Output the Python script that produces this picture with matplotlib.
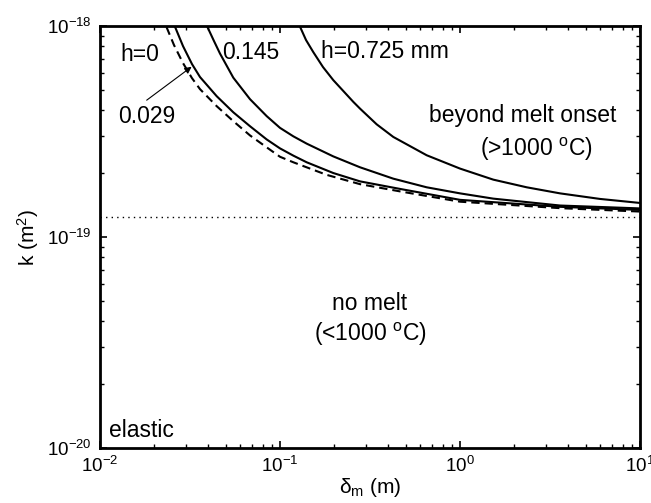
import matplotlib
matplotlib.use("Agg")
import matplotlib.pyplot as plt

plt.rcParams['font.family'] = ['Liberation Sans', 'DejaVu Sans']
plt.rcParams['mathtext.fontset'] = 'custom'
plt.rcParams['mathtext.rm'] = 'Liberation Sans'
plt.rcParams['mathtext.it'] = 'Liberation Sans:italic'
plt.rcParams['mathtext.bf'] = 'Liberation Sans:bold'
plt.rcParams['axes.unicode_minus'] = True

# ---- data ----
# h = 0 (dashed)
h0_x = [0.02341, 0.02577, 0.02892, 0.03244, 0.03594, 0.04448, 0.05502, 0.06813,
        0.08434, 0.1, 0.1186, 0.1817, 0.2783, 0.4642, 1.0, 3.594, 10]
h0_y = [9.89e-19, 8.12e-19, 6.67e-19, 5.66e-19, 5.02e-19, 4.17e-19, 3.54e-19, 3.03e-19,
        2.66e-19, 2.40e-19, 2.26e-19, 1.97e-19, 1.78e-19, 1.645e-19, 1.47e-19, 1.37e-19, 1.32e-19]
# h = 0.029 mm
h029_x = [0.02610, 0.02892, 0.03244, 0.03594, 0.04448, 0.05502, 0.06813, 0.08434,
          0.1, 0.1186, 0.1407, 0.1977, 0.2783, 0.4642, 1.0, 3.594, 10]
h029_y = [9.92e-19, 8.03e-19, 6.60e-19, 5.73e-19, 4.65e-19, 3.90e-19, 3.35e-19, 2.90e-19,
          2.63e-19, 2.43e-19, 2.26e-19, 2.01e-19, 1.835e-19, 1.69e-19, 1.50e-19, 1.39e-19, 1.344e-19]
# h = 0.145 mm
h145_x = [0.03946, 0.04297, 0.04642, 0.05502, 0.06813, 0.08434, 0.1, 0.1186, 0.1407,
          0.1977, 0.2783, 0.4260, 0.6531, 1.0, 1.531, 3.594, 10]
h145_y = [9.92e-19, 8.49e-19, 7.40e-19, 5.69e-19, 4.50e-19, 3.74e-19, 3.29e-19, 3.00e-19, 2.77e-19,
          2.41e-19, 2.14e-19, 1.89e-19, 1.72e-19, 1.61e-19, 1.52e-19, 1.41e-19, 1.366e-19]
# h = 0.725 mm
h725_x = [0.1292, 0.1395, 0.1531, 0.1733, 0.1977, 0.2554, 0.2783, 0.3444, 0.4260,
          0.6531, 1.0, 1.531, 2.348, 3.594, 5.995, 10]
h725_y = [9.92e-19, 8.58e-19, 7.52e-19, 6.39e-19, 5.54e-19, 4.37e-19, 4.06e-19, 3.42e-19, 2.98e-19,
          2.44e-19, 2.11e-19, 1.87e-19, 1.72e-19, 1.61e-19, 1.515e-19, 1.45e-19]
# melt-onset threshold (dotted)
k_melt = 1.24e-19

x_lim = [1e-2, 1e1]
y_lim = [1e-20, 1e-18]

# ---- figure ----
fig = plt.figure(figsize=(6.51, 5.03), dpi=100)
ax = fig.add_axes([100/651, 1-448/503, 540/651, 422/503])

lw = 1.5
ax.plot(h0_x, h0_y, color='k', lw=lw, linestyle=(0, (4, 2.4)))
ax.plot(h029_x, h029_y, color='k', lw=lw)
ax.plot(h145_x, h145_y, color='k', lw=lw)
ax.plot(h725_x, h725_y, color='k', lw=lw)
ax.plot(x_lim, [k_melt, k_melt], color='k', lw=1.0, linestyle=(0, (1, 3)))

ax.set_xscale('log')
ax.set_yscale('log')
ax.set_xlim(x_lim)
ax.set_ylim(y_lim)

for s in ax.spines.values():
    s.set_linewidth(2.0)
ax.tick_params(which='both', direction='in', top=True, right=True, labelsize=13.5, pad=6)
ax.tick_params(which='major', length=5, width=1.2)
ax.tick_params(which='minor', length=3, width=1.0)

ax.set_xlabel('δ$_{\\mathrm{m}}$ (m)', fontsize=15, labelpad=0)
ax.set_ylabel('k (m$^{2}$)', fontsize=15, labelpad=4)

fs = 16.5
ax.text(0.0129, 7.36e-19, 'h=0', fontsize=fs, va='center', ha='left')
ax.text(0.01259, 3.74e-19, '0.029', fontsize=fs, va='center', ha='left')
ax.text(0.04764, 7.52e-19, '0.145', fontsize=fs, va='center', ha='left')
ax.text(0.1689, 7.6e-19, 'h=0.725 mm', fontsize=fs, va='center', ha='left')
ax.text(2.239, 3.51e-19, 'beyond melt onset', fontsize=fs, va='baseline', ha='center')
ax.text(2.665, 2.41e-19, '(>1000 $^{\\mathrm{o}}$C)', fontsize=fs, va='baseline', ha='center')
ax.text(0.3162, 4.83e-20, 'no melt', fontsize=fs, va='center', ha='center')
ax.text(0.3162, 3.44e-20, '(<1000 $^{\\mathrm{o}}$C)', fontsize=fs, va='center', ha='center')
ax.text(0.01122, 1.13e-20, 'elastic', fontsize=fs, va='baseline', ha='left')

ax.annotate('', xy=(0.03228, 6.41e-19), xytext=(0.01817, 4.45e-19),
            arrowprops=dict(arrowstyle='-|>', lw=0.8, color='k',
                            mutation_scale=10, shrinkA=0, shrinkB=0))

fig.savefig('out.png', dpi=100)
